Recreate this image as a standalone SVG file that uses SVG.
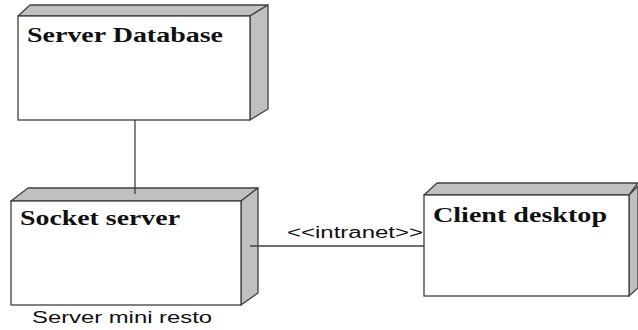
<svg xmlns="http://www.w3.org/2000/svg" width="638" height="330" viewBox="0 0 638 330">
<style>
.front{fill:#ffffff;stroke:#404040;stroke-width:1.3}
.side{fill:#c0c0c0;stroke:#404040;stroke-width:1.3;stroke-linejoin:round}
.title{font-family:"Liberation Serif",serif;font-weight:bold;font-size:20px;fill:#111}
.lbl{font-family:"Liberation Sans",sans-serif;font-size:16px;fill:#111}
.conn{stroke:#404040;stroke-width:1.3;fill:none}
</style>
<rect width="638" height="330" fill="#ffffff"/>
<g id="server-database">
<polygon class="side" points="18,16 30,5 268,5 250,16"/>
<polygon class="side" points="250,16 268,5 268,109 250,120"/>
<rect class="front" x="18" y="16" width="232" height="104"/>
<text class="title" x="27" y="42" textLength="196" lengthAdjust="spacingAndGlyphs">Server Database</text>
</g>
<g id="socket-server">
<polygon class="side" points="11,201 28,188 258,188 241,201"/>
<polygon class="side" points="241,201 258,188 258,293 241,305"/>
<rect class="front" x="11" y="201" width="230" height="104"/>
<text class="title" x="20" y="225" textLength="160" lengthAdjust="spacingAndGlyphs">Socket server</text>
<text class="lbl" x="32" y="323" textLength="180" lengthAdjust="spacingAndGlyphs">Server mini resto</text>
</g>
<g id="client-desktop">
<polygon class="side" points="424,195 437,183 638,183 629,195"/>
<polygon class="side" points="629,195 638,186 638,288 629,296"/>
<rect class="front" x="424" y="195" width="205" height="101"/>
<text class="title" x="433" y="222" textLength="174" lengthAdjust="spacingAndGlyphs">Client desktop</text>
</g>
<g id="connectors">
<line class="conn" x1="135" y1="120" x2="135" y2="194"/>
<line class="conn" x1="250" y1="246" x2="424" y2="246"/>
<text class="lbl" x="287" y="238" textLength="136" lengthAdjust="spacingAndGlyphs">&lt;&lt;intranet&gt;&gt;</text>
</g>
</svg>
